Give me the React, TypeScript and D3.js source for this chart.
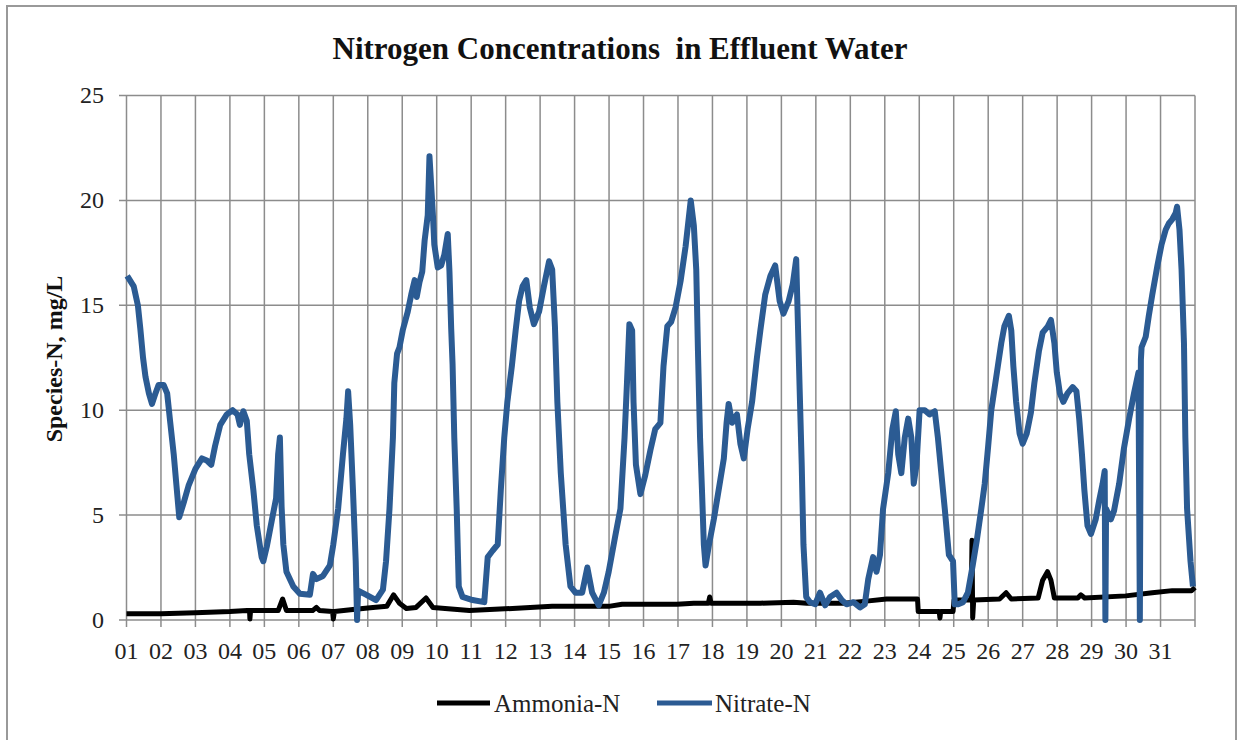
import React from "react";
import * as d3 from "d3";

const dayLabels = ["01","02","03","04","05","06","07","08","09","10","11","12","13","14","15","16","17","18","19","20","21","22","23","24","25","26","27","28","29","30","31"];
const yTicks = [0, 5, 10, 15, 20, 25];

const nitrateDay = [1.02,1.21,1.33,1.40,1.48,1.55,1.65,1.74,1.84,1.93,2.08,2.18,2.27,2.37,2.45,2.53,2.66,2.80,3.00,3.19,3.33,3.46,3.57,3.72,3.91,4.08,4.22,4.29,4.39,4.49,4.56,4.68,4.78,4.92,4.97,5.07,5.21,5.34,5.40,5.45,5.50,5.55,5.64,5.84,6.03,6.32,6.41,6.51,6.70,6.90,7.00,7.14,7.28,7.38,7.43,7.49,7.57,7.65,7.69,7.72,7.96,8.24,8.44,8.53,8.63,8.73,8.77,8.85,8.92,9.02,9.16,9.26,9.36,9.42,9.50,9.58,9.65,9.74,9.79,9.84,9.89,9.93,10.03,10.13,10.22,10.32,10.37,10.42,10.46,10.51,10.58,10.64,10.75,11.04,11.38,11.48,11.62,11.77,11.86,11.96,12.05,12.18,12.29,12.39,12.49,12.60,12.70,12.82,12.97,13.11,13.26,13.35,13.43,13.50,13.60,13.74,13.88,14.03,14.22,14.37,14.51,14.70,14.85,14.99,15.18,15.33,15.45,15.52,15.59,15.67,15.71,15.78,15.91,16.05,16.20,16.34,16.49,16.58,16.69,16.80,16.93,17.08,17.22,17.37,17.46,17.53,17.58,17.64,17.70,17.75,17.80,17.90,18.04,18.18,18.33,18.41,18.47,18.57,18.71,18.81,18.91,19.02,19.15,19.29,19.39,19.53,19.68,19.82,19.95,20.06,20.21,20.33,20.43,20.47,20.53,20.59,20.64,20.72,20.83,20.98,21.12,21.27,21.41,21.60,21.75,21.89,22.09,22.28,22.42,22.52,22.66,22.76,22.86,22.95,23.10,23.22,23.32,23.39,23.48,23.58,23.68,23.77,23.84,23.92,24.01,24.16,24.30,24.45,24.54,24.64,24.74,24.86,24.98,25.03,25.13,25.27,25.41,25.55,25.67,25.80,25.90,26.00,26.09,26.19,26.28,26.38,26.47,26.60,26.67,26.73,26.81,26.91,27.00,27.12,27.24,27.34,27.47,27.58,27.73,27.82,27.92,27.99,28.08,28.18,28.30,28.45,28.56,28.64,28.72,28.79,28.88,28.98,29.12,29.22,29.32,29.38,29.40,29.42,29.56,29.65,29.80,29.94,30.09,30.23,30.36,30.40,30.43,30.45,30.57,30.66,30.76,30.91,31.03,31.15,31.24,31.34,31.44,31.48,31.55,31.61,31.68,31.72,31.77,31.87,31.94];
const nitrateVal = [16.4,15.9,15.0,13.9,12.5,11.6,10.8,10.3,10.8,11.2,11.2,10.8,9.4,7.9,6.4,4.9,5.6,6.4,7.2,7.7,7.6,7.4,8.3,9.3,9.8,10.0,9.8,9.3,9.95,9.5,7.9,6.2,4.5,3.0,2.8,3.5,4.7,5.8,7.9,8.7,5.4,3.6,2.3,1.6,1.25,1.2,2.2,1.95,2.1,2.6,3.6,5.3,7.9,9.6,10.9,9.3,6.2,2.8,0,1.4,1.2,0.95,1.45,2.8,5.3,8.7,11.3,12.7,13.0,13.85,14.7,15.5,16.2,15.4,16.1,16.6,18.1,19.3,22.1,20.7,19.3,17.9,16.8,16.9,17.4,18.4,16.6,13.9,12.2,8.7,5.3,1.6,1.1,0.95,0.85,3.0,3.3,3.6,6.2,8.7,10.4,12.1,13.8,15.2,15.9,16.2,14.9,14.1,14.7,15.9,17.1,16.7,14.0,10.4,7.0,3.6,1.6,1.3,1.3,2.5,1.3,0.7,1.3,2.3,4.0,5.3,8.7,11.3,14.1,13.8,10.4,7.4,6.0,6.9,8.1,9.1,9.4,12.1,14.0,14.2,14.9,16.2,17.8,20.0,18.8,16.7,12.8,8.7,6.0,3.6,2.6,3.6,4.8,6.2,7.7,9.4,10.3,9.4,9.8,8.4,7.7,9.1,10.4,12.5,13.8,15.5,16.4,16.9,15.2,14.6,15.2,16.0,17.2,14.7,11.0,7.4,3.6,1.1,0.85,0.75,1.3,0.7,1.1,1.3,0.95,0.75,0.85,0.6,0.75,1.95,3.0,2.3,3.1,5.3,7.0,9.1,9.95,7.9,7.0,8.7,9.6,8.7,6.5,7.4,10.0,10.0,9.8,9.95,8.7,7.0,5.3,3.1,2.8,0.75,0.75,0.85,1.3,2.6,3.8,5.3,6.5,8.3,10.0,11.1,12.1,13.2,14.0,14.5,13.8,12.1,10.4,8.9,8.4,8.9,9.9,11.3,12.8,13.7,14.0,14.3,13.2,11.8,10.8,10.4,10.8,11.1,10.9,9.6,7.9,6.2,4.5,4.1,4.8,5.7,6.5,7.1,0,5.3,4.8,5.2,6.5,8.2,9.6,10.8,11.8,0,12.4,13.0,13.5,14.5,15.5,16.9,17.9,18.6,18.9,19.1,19.4,19.7,18.6,16.7,13.2,8.7,5.3,2.8,1.6];

const ammoniaDay = [1.0,2.0,3.0,4.0,4.5,4.57,4.58,4.60,5.07,5.40,5.53,5.64,6.40,6.51,6.60,6.98,7.00,7.03,7.57,8.15,8.55,8.75,8.92,9.12,9.40,9.69,9.89,10.95,12.2,13.35,14.99,15.38,16.97,17.46,17.88,17.92,17.96,18.5,19.39,20.35,20.74,21.8,22.47,23.05,23.95,23.97,24.58,24.60,24.62,24.98,25.01,25.51,25.53,25.55,25.58,26.33,26.52,26.67,27.45,27.58,27.72,27.82,27.92,28.6,28.69,28.8,29.99,30.76,31.34,31.9,32.0];
const ammoniaVal = [0.3,0.3,0.35,0.4,0.45,0.45,0.05,0.45,0.45,0.45,1.0,0.45,0.45,0.6,0.45,0.4,0.05,0.4,0.5,0.6,0.65,1.2,0.8,0.55,0.6,1.05,0.6,0.45,0.55,0.65,0.65,0.75,0.75,0.8,0.8,1.1,0.8,0.8,0.8,0.85,0.8,0.8,0.9,1.0,1.0,0.4,0.4,0.1,0.4,0.4,0.95,0.95,3.8,0.1,0.95,1.0,1.3,1.0,1.05,1.9,2.3,1.9,1.05,1.05,1.2,1.05,1.15,1.3,1.4,1.4,1.55];

const seriesNames = ["Ammonia-N", "Nitrate-N"];
const seriesColors = ["#000000", "#2b5b93"];

export default function App() {
  const x = d3.scaleLinear().domain([1, 32]).range([126.5, 1195]);
  const y = d3.scaleLinear().domain([0, 25]).range([620, 95.5]);
  const line = d3.line<[number, number]>().x((d) => x(d[0])).y((d) => y(d[1]));
  const nitrate: [number, number][] = nitrateDay.map((d, i) => [d, nitrateVal[i]]);
  const ammonia: [number, number][] = ammoniaDay.map((d, i) => [d, ammoniaVal[i]]);
  const gridDays = d3.range(1, 33);
  const serif = "'Liberation Serif', 'Times New Roman', serif";
  const grid = "#8c8c8c";

  return (
    <svg width={1238} height={740} style={{ position: "absolute", left: 0, top: 0, background: "#fff" }} fontFamily={serif}>
      <rect x={0} y={0} width={1238} height={740} fill="#fff" />
      <rect x={7} y={6} width={1229} height={760} fill="none" stroke="#999" strokeWidth={2} />
      <text x={620} y={59} textAnchor="middle" fontWeight="bold" fontSize={31} fill="#111">
        {"Nitrogen Concentrations\u00a0 in Effluent Water"}
      </text>
      {yTicks.map((t) => (
        <g key={"y" + t}>
          <line x1={119} x2={1195} y1={y(t)} y2={y(t)} stroke={grid} strokeWidth={1.5} />
          <text x={104} y={y(t)} dy="0.33em" textAnchor="end" fontSize={24} fill="#222">{t}</text>
        </g>
      ))}
      {gridDays.map((d) => (
        <line key={"x" + d} x1={x(d)} x2={x(d)} y1={y(25)} y2={627} stroke={grid} strokeWidth={1.5} />
      ))}
      {dayLabels.map((lab, i) => (
        <text key={"l" + lab} x={x(i + 1)} y={659} textAnchor="middle" fontSize={24} fill="#222">{lab}</text>
      ))}
      <text transform="translate(62,359) rotate(-90)" textAnchor="middle" fontWeight="bold" fontSize={24} fill="#111">
        Species-N, mg/L
      </text>
      <path d={line(ammonia) || ""} fill="none" stroke={seriesColors[0]} strokeWidth={5} strokeLinejoin="round" />
      <path d={line(nitrate) || ""} fill="none" stroke={seriesColors[1]} strokeWidth={6} strokeLinejoin="round" />
      <g>
        <line x1={437} x2={490} y1={703} y2={703} stroke={seriesColors[0]} strokeWidth={5} />
        <text x={494} y={712} fontSize={25} fill="#222">{seriesNames[0]}</text>
        <line x1={657} x2={712} y1={703} y2={703} stroke={seriesColors[1]} strokeWidth={5} />
        <text x={715} y={712} fontSize={25} fill="#222">{seriesNames[1]}</text>
      </g>
    </svg>
  );
}
